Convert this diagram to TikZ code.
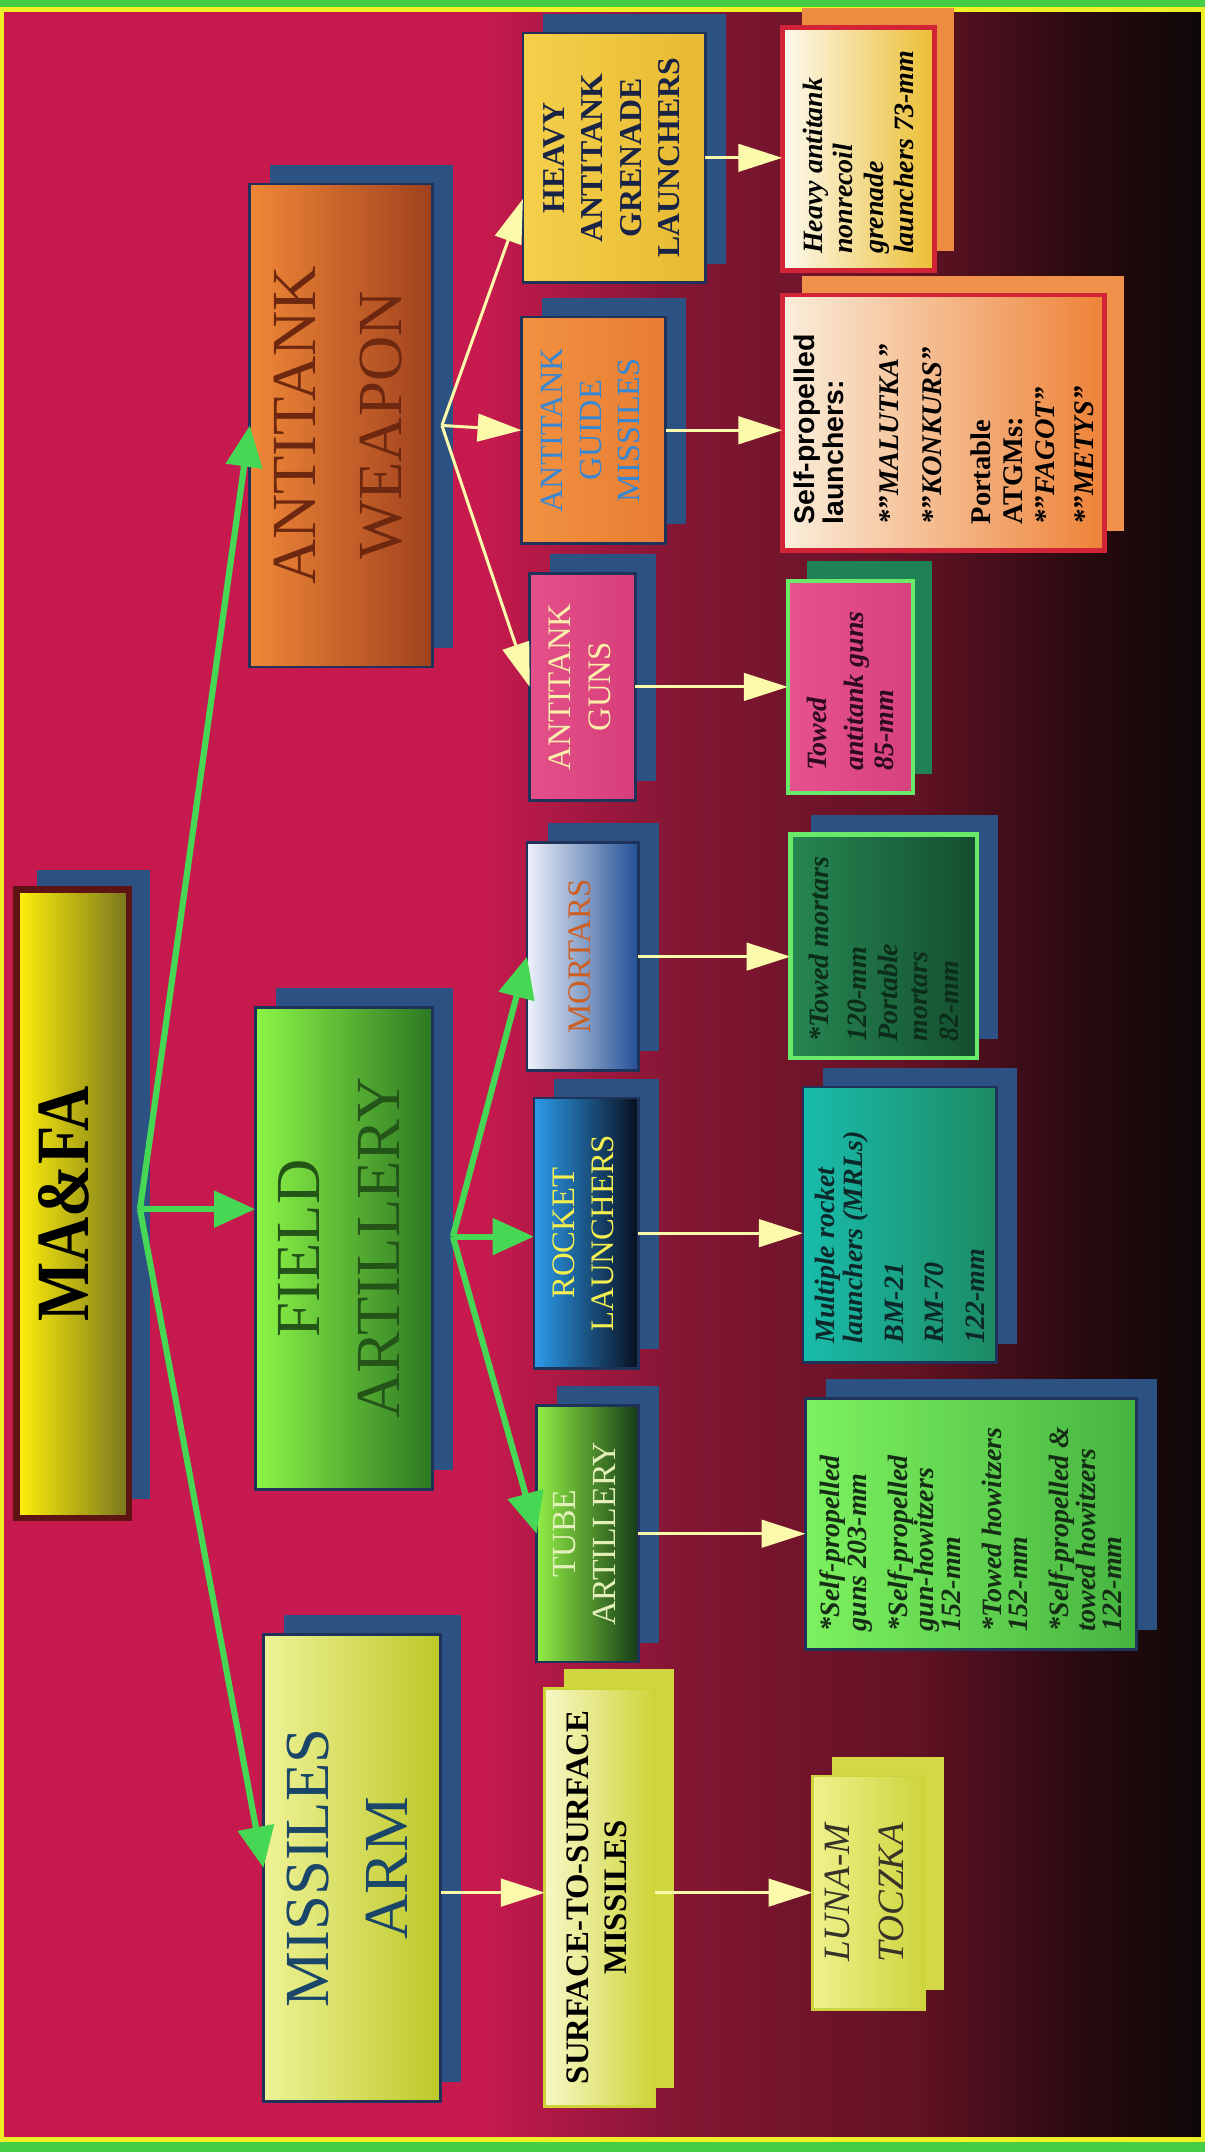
\documentclass[tikz,border=0pt]{standalone}
\usepackage{fontspec}
\setmainfont{Liberation Serif}
\setsansfont{Liberation Sans}
\usetikzlibrary{arrows.meta,shadows,calc}

\definecolor{bgA}{RGB}{198,26,78}
\definecolor{bgB}{RGB}{132,22,52}
\definecolor{bgC}{RGB}{98,18,36}
\definecolor{bgD}{RGB}{40,10,16}
\definecolor{bgE}{RGB}{14,8,8}
\definecolor{framegreen}{RGB}{70,205,70}
\definecolor{frameyellow}{RGB}{240,240,40}
\definecolor{shblue}{RGB}{44,82,132}
\definecolor{arrgreen}{RGB}{70,215,85}
\definecolor{arryellow}{RGB}{250,250,170}
\definecolor{edgeblue}{RGB}{30,50,90}
\definecolor{edgegreen}{RGB}{105,235,105}
\definecolor{edgered}{RGB}{210,35,55}
\definecolor{mafaA}{RGB}{255,240,10}
\definecolor{mafaB}{RGB}{120,118,30}
\definecolor{mafaedge}{RGB}{95,20,20}
\definecolor{misA}{RGB}{238,242,150}
\definecolor{misB}{RGB}{190,200,40}
\definecolor{mistext}{RGB}{25,70,105}
\definecolor{fldA}{RGB}{140,245,70}
\definecolor{fldB}{RGB}{45,120,35}
\definecolor{fldtext}{RGB}{35,85,25}
\definecolor{atwA}{RGB}{240,135,55}
\definecolor{atwB}{RGB}{160,65,30}
\definecolor{atwtext}{RGB}{110,40,15}
\definecolor{surA}{RGB}{248,248,200}
\definecolor{surB}{RGB}{205,212,55}
\definecolor{surback}{RGB}{208,214,62}
\definecolor{tubA}{RGB}{145,238,70}
\definecolor{tubB}{RGB}{22,60,22}
\definecolor{tubtext}{RGB}{228,240,185}
\definecolor{rokA}{RGB}{45,155,235}
\definecolor{rokB}{RGB}{8,15,30}
\definecolor{roktext}{RGB}{245,240,80}
\definecolor{morA}{RGB}{238,242,250}
\definecolor{morB}{RGB}{35,80,150}
\definecolor{mortext}{RGB}{205,95,35}
\definecolor{agA}{RGB}{228,80,138}
\definecolor{agB}{RGB}{215,62,122}
\definecolor{agtext}{RGB}{250,240,170}
\definecolor{gmA}{RGB}{242,145,65}
\definecolor{gmB}{RGB}{232,125,50}
\definecolor{gmtext}{RGB}{55,135,210}
\definecolor{hvA}{RGB}{245,208,75}
\definecolor{hvB}{RGB}{232,185,50}
\definecolor{hvtext}{RGB}{25,35,70}
\definecolor{lunA}{RGB}{238,242,140}
\definecolor{lunB}{RGB}{205,212,60}
\definecolor{lunback}{RGB}{212,216,70}
\definecolor{luntext}{RGB}{55,50,40}
\definecolor{tsA}{RGB}{125,242,95}
\definecolor{tsB}{RGB}{70,180,65}
\definecolor{tstext}{RGB}{20,45,20}
\definecolor{rsA}{RGB}{25,188,172}
\definecolor{rsB}{RGB}{28,138,98}
\definecolor{rstext}{RGB}{12,40,40}
\definecolor{msA}{RGB}{38,135,82}
\definecolor{msB}{RGB}{20,78,46}
\definecolor{mstext}{RGB}{12,45,25}
\definecolor{asA}{RGB}{230,82,142}
\definecolor{asB}{RGB}{215,66,126}
\definecolor{asback}{RGB}{30,130,85}
\definecolor{astext}{RGB}{45,10,30}
\definecolor{gsA}{RGB}{250,238,220}
\definecolor{gsB}{RGB}{238,130,55}
\definecolor{gsback}{RGB}{240,145,75}
\definecolor{hsA}{RGB}{252,250,240}
\definecolor{hsB}{RGB}{235,190,50}
\definecolor{hsback}{RGB}{236,140,65}

\pgfdeclarehorizontalshading{backdrop}{100bp}{color(0bp)=(bgA); color(45bp)=(bgA); color(53bp)=(bgB); color(63bp)=(bgC); color(70bp)=(bgD); color(75bp)=(bgE); color(100bp)=(bgE)}

\tikzset{
  panel/.style={inner sep=0pt, outer sep=0pt, draw=#1, line width=0.2mm},
  blueshadow/.style={general shadow={fill=shblue, shadow xshift=1.5mm, shadow yshift=1.4mm}},
  backcard/.style={general shadow={fill=#1, shadow xshift=1.4mm, shadow yshift=1.4mm}},
  greenarrow/.style={draw=arrgreen, line width=0.45mm, -{Triangle[length=3mm,width=2.6mm]}},
  yellowarrow/.style={draw=arryellow, line width=0.22mm, -{Triangle[length=3.2mm,width=2mm]}}
}
\newcommand{\vtext}[1]{\rotatebox{90}{\begin{tabular}{@{}c@{}}#1\end{tabular}}}
\newcommand{\vlist}[2]{\rotatebox{90}{\parbox{#1}{\raggedright #2}}}
\newcommand{\fs}[2]{\fontsize{#1}{#2}\selectfont}

\begin{document}
\begin{tikzpicture}[x=0.1mm, y=-0.1mm]
\useasboundingbox (0,0) rectangle (878,1568);
% frame and backdrop
\fill[framegreen] (0,0) rectangle (878,1568);
\fill[frameyellow] (0,5) rectangle (878,1561);
\shade[shading=backdrop] (3,9) rectangle (875,1557);

% top
\node[panel=mafaedge, line width=0.5mm, blueshadow, left color=mafaA, right color=mafaB,
  minimum width=8.2mm, minimum height=45.8mm, font=\fs{13}{16}\bfseries] (mafa) at (53,877)
  {\vtext{\scalebox{1}[1.2]{MA\&FA}}};

% branches
\node[panel=edgeblue, blueshadow, left color=misA, right color=misB, text=mistext,
  minimum width=12.9mm, minimum height=34mm, font=\fs{13}{16.5}] (missiles) at (256.5,1361)
  {\vtext{MISSILES\\ARM}};
\node[panel=edgeblue, blueshadow, left color=fldA, right color=fldB, text=fldtext,
  minimum width=12.9mm, minimum height=35.1mm, font=\fs{13}{16.5}] (field) at (250.5,909.5)
  {\vtext{FIELD\\ARTILLERY}};
\node[panel=edgeblue, blueshadow, left color=atwA, right color=atwB, text=atwtext,
  minimum width=13.3mm, minimum height=35.2mm, font=\fs{13}{18}] (antitank) at (248.5,310)
  {\vtext{ANTITANK\\WEAPON}};

% second row
\node[panel=surB, backcard=surback, left color=surA, right color=surB,
  minimum width=8mm, minimum height=30.5mm, font=\fs{6.8}{7.8}\bfseries] (surface) at (437,1382.5)
  {\vtext{SURFACE-TO-SURFACE\\MISSILES}};
\node[panel=edgeblue, blueshadow, left color=tubA, right color=tubB, text=tubtext,
  minimum width=7.4mm, minimum height=18.7mm, font=\fs{7}{8.2}] (tube) at (428,1117.5)
  {\vtext{TUBE\\ARTILLERY}};
\node[panel=edgeblue, blueshadow, left color=rokA, right color=rokB, text=roktext,
  minimum width=7.6mm, minimum height=19.7mm, font=\fs{6.8}{8.2}] (rocket) at (427,898.5)
  {\vtext{ROCKET\\LAUNCHERS}};
\node[panel=edgeblue, blueshadow, left color=morA, right color=morB, text=mortext,
  minimum width=8.1mm, minimum height=16.6mm, font=\fs{6.8}{8.2}] (mortars) at (424.5,697)
  {\vtext{MORTARS}};
\node[panel=edgeblue, blueshadow, left color=agA, right color=agB, text=agtext,
  minimum width=7.7mm, minimum height=16.5mm, font=\fs{6.8}{8.2}] (atguns) at (424.5,500.5)
  {\vtext{ANTITANK\\GUNS}};
\node[panel=edgeblue, blueshadow, left color=gmA, right color=gmB, text=gmtext,
  minimum width=10.5mm, minimum height=16.5mm, font=\fs{6.7}{8}] (atgm) at (432.5,313.5)
  {\vtext{ANTITANK\\GUIDE\\MISSILES}};
\node[panel=edgeblue, blueshadow, left color=hvA, right color=hvB, text=hvtext,
  minimum width=13.3mm, minimum height=18.2mm, font=\fs{6.6}{8}\bfseries] (heavy) at (447.5,115)
  {\vtext{HEAVY\\ANTITANK\\GRENADE\\LAUNCHERS}};

% third row
\node[panel=lunB, backcard=lunback, left color=lunA, right color=lunB, text=luntext,
  minimum width=8.2mm, minimum height=17mm, font=\fs{7.7}{8}\itshape] (luna) at (633,1379)
  {\vtext{LUNA-M\\[3pt]TOCZKA}};
\node[panel=edgeblue, blueshadow, left color=tsA, right color=tsB, text=tstext,
  minimum width=24.1mm, minimum height=18.3mm, font=\fs{5.8}{5.5}\bfseries\itshape] (tubesub) at (707.5,1110.5)
  {\vlist{15.6mm}{*Self-propelled\\guns 203-mm\\[3pt]
   *Self-propelled\\gun-howitzers\\152-mm\\[3pt]
   *Towed howitzers\\152-mm\\[3pt]
   *Self-propelled \&\\towed howitzers\\122-mm}};
\node[panel=edgeblue, blueshadow, left color=rsA, right color=rsB, text=rstext,
  minimum width=14.1mm, minimum height=20.1mm, font=\fs{5.8}{5.8}\bfseries\itshape] (rocketsub) at (655.5,892.5)
  {\vlist{17.3mm}{Multiple rocket\\launchers (MRLs)\\[2.6pt]
   BM-21\\[2.6pt]RM-70\\[2.6pt]122-mm}};
\node[panel=edgegreen, line width=0.3mm, blueshadow, left color=msA, right color=msB, text=mstext,
  minimum width=13.6mm, minimum height=16.3mm, font=\fs{5.8}{6.3}\bfseries\itshape] (mortarsub) at (644,689.5)
  {\vlist{13.9mm}{*Towed mortars\\[1.6pt]120-mm\\*Portable\\mortars\\82-mm}};
\node[panel=edgegreen, line width=0.3mm, backcard=asback, left color=asA, right color=asB, text=astext,
  minimum width=9.1mm, minimum height=15.5mm, font=\fs{5.8}{6.2}\bfseries\itshape] (atgunsub) at (619.5,500.5)
  {\vlist{12.2mm}{Towed\\[1.4pt]antitank guns\\85-mm}};
\node[panel=edgered, line width=0.35mm, backcard=gsback, left color=gsA, right color=gsB,
  minimum width=23.5mm, minimum height=18.6mm, font=\fs{5.9}{6.1}\bfseries] (atgmsub) at (687.5,308)
  {\vlist{14.8mm}{{\sffamily Self-propelled\\launchers:}\\[5.4pt]
   {\itshape *''MALUTKA''}\\[2.8pt]{\itshape *''KONKURS''}\\[4pt]
   Portable\\[0.5pt]ATGMs:\\[0.5pt]
   {\itshape *''FAGOT''}\\[2pt]{\itshape *''METYS''}}};
\node[panel=edgered, line width=0.35mm, backcard=hsback, left color=hsA, right color=hsB,
  minimum width=11.1mm, minimum height=17.7mm, font=\fs{5.8}{6.3}\bfseries\itshape] (heavysub) at (625.5,108.5)
  {\vlist{15.3mm}{Heavy antitank\\nonrecoil\\grenade\\launchers 73-mm}};

% green links
\coordinate (fkA) at ($(mafa.east)+(8,4)$);
\coordinate (fkB) at ($(field.east)+(15,-8.5)$);
\draw[greenarrow] (fkA) -- (missiles.west);
\draw[greenarrow] (fkA) -- (field.west |- fkA);
\draw[greenarrow] (fkA) -- (antitank.west);
\draw[greenarrow] (fkB) -- (tube.west);
\draw[greenarrow] (fkB) -- (rocket.west |- fkB);
\draw[greenarrow] (fkB) -- (mortars.west);

% yellow links
\coordinate (fkC) at ($(antitank.east)+(7,0)$);
\draw[yellowarrow] (fkC) -- ([yshift=-3mm]heavy.west);
\draw[yellowarrow] (fkC) -- (atgm.west);
\draw[yellowarrow] (fkC) -- (atguns.west);
\draw[yellowarrow] (missiles.east |- luna.west) -- (surface.west |- luna.west);
\draw[yellowarrow] (surface.east |- luna.west) -- (luna.west);
\draw[yellowarrow] (tube.east) -- (tube.east -| tubesub.west);
\draw[yellowarrow] (rocket.east) -- (rocket.east -| rocketsub.west);
\draw[yellowarrow] (mortars.east) -- (mortars.east -| mortarsub.west);
\draw[yellowarrow] (atguns.east) -- (atguns.east -| atgunsub.west);
\draw[yellowarrow] (atgm.east) -- (atgm.east -| atgmsub.west);
\draw[yellowarrow] (heavy.east) -- (heavy.east -| heavysub.west);
\end{tikzpicture}
\end{document}
